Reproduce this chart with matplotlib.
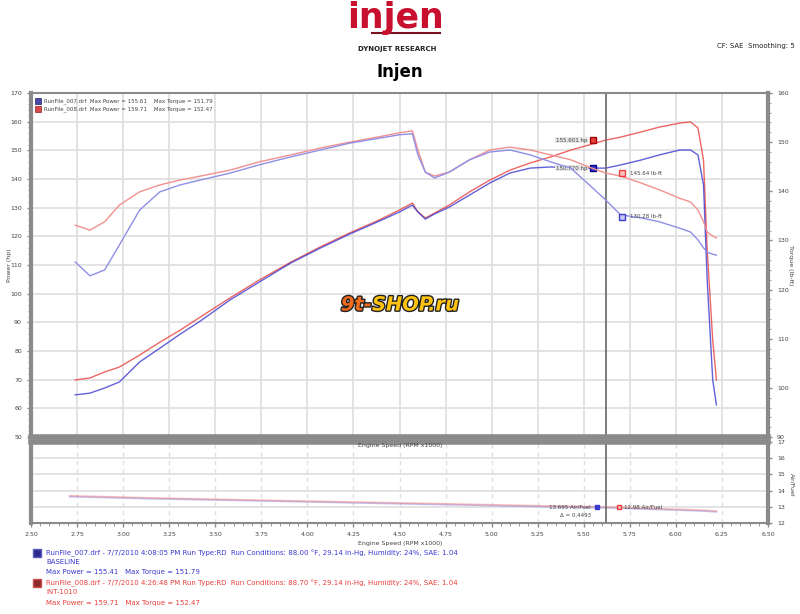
import matplotlib
matplotlib.use('Agg')
from matplotlib import pyplot as plt
from matplotlib.ticker import MultipleLocator, FormatStrFormatter
import matplotlib.patheffects as pe

# engine speed (RPM x1000)
rpm = [2.74, 2.82, 2.90, 2.98, 3.09, 3.20, 3.31, 3.42, 3.58, 3.74, 3.91, 4.07, 4.23,
       4.39, 4.50, 4.57, 4.60, 4.64, 4.69, 4.77, 4.88, 4.99, 5.10, 5.21, 5.32, 5.43,
       5.53, 5.62, 5.70, 5.81, 5.91, 6.02, 6.08, 6.12, 6.15, 6.17, 6.20, 6.22]

# power (hp)
power_red = [69.9, 70.6, 72.7, 74.4, 78.6, 83.1, 87.3, 91.9, 98.5, 104.8, 111.0, 116.3, 121.2,
             125.7, 129.2, 131.6, 128.5, 126.4, 128.1, 130.9, 135.5, 139.6, 143.1, 145.6, 147.7, 150.1,
             151.9, 153.6, 154.6, 156.4, 158.1, 159.5, 159.9, 157.8, 146.6, 115.2, 83.8, 69.9]
power_blue = [64.7, 65.3, 67.1, 69.2, 76.2, 81.0, 85.9, 90.5, 97.8, 104.1, 110.7, 115.9, 120.8,
              125.3, 128.5, 130.9, 128.5, 126.0, 127.8, 130.2, 134.4, 138.6, 142.1, 143.8, 144.2, 143.8,
              143.8, 143.8, 144.9, 146.6, 148.4, 150.1, 150.1, 148.4, 137.9, 104.8, 69.9, 61.2]

# torque (lb-ft)
torque_red = [133.1, 132.1, 133.8, 137.2, 139.9, 141.3, 142.3, 143.1, 144.3, 146.0, 147.4, 148.8, 150.0,
              151.1, 151.9, 152.3, 148.4, 143.9, 143.1, 143.9, 146.4, 148.4, 149.0, 148.4, 147.4, 146.4,
              144.9, 143.7, 143.1, 141.7, 140.3, 138.6, 137.8, 136.2, 133.8, 131.7, 130.9, 130.5]
torque_blue = [125.6, 122.8, 124.0, 129.1, 136.2, 139.9, 141.3, 142.3, 143.7, 145.4, 147.0, 148.4, 149.8,
               150.8, 151.5, 151.7, 147.4, 143.9, 142.7, 143.9, 146.4, 148.0, 148.4, 147.4, 146.0, 144.7,
               141.3, 138.2, 135.2, 134.6, 133.8, 132.5, 131.7, 130.1, 128.5, 127.6, 127.2, 127.0]

# air/fuel (lower panel)
afr_rpm = [2.71, 3.15, 3.69, 4.23, 4.77, 5.32, 5.62, 6.13, 6.22]
afr_blue = [13.63, 13.50, 13.38, 13.25, 13.13, 13.00, 12.94, 12.75, 12.69]
afr_red = [13.68, 13.55, 13.42, 13.30, 13.18, 13.05, 12.99, 12.80, 12.74]

cursor_rpm = 5.62

BLUE = '#3a3ad0'
RED = '#e8403c'
BLUE_L = '#8f8fe6'
RED_L = '#f19090'
GRID = '#e0e0e0'
SPINE = '#8a8a8a'
TXT = '#444444'

W, H = 800, 614
fig = plt.figure(figsize=(8, 6.14), dpi=100)


def fx(px):
    return px / W


def fy(py):
    return 1 - py / H


# ---- main panel
ax = fig.add_axes([fx(31), fy(437), fx(768) - fx(31), fy(93) - fy(437)])
ax.set_xlim(2.5, 6.5)
ax.set_ylim(50, 170)
ax.xaxis.set_major_locator(MultipleLocator(0.25))
ax.yaxis.set_major_locator(MultipleLocator(10))
ax.yaxis.set_minor_locator(MultipleLocator(2))
ax.grid(True, color=GRID, lw=1.3)
ax.set_axisbelow(True)
ax.tick_params(axis='x', labelbottom=False, length=0)
ax.tick_params(axis='y', labelsize=4.5, labelcolor=TXT, color=SPINE, length=3, width=1)
ax.tick_params(axis='y', which='minor', length=2, color=SPINE)
for s in ax.spines.values():
    s.set_color(SPINE)
    s.set_linewidth(1.5)
ax.spines['left'].set_linewidth(3)
ax.spines['bottom'].set_linewidth(4)

axt = ax.twinx()
axt.set_ylim(90, 160)
axt.yaxis.set_major_locator(MultipleLocator(10))
axt.yaxis.set_minor_locator(MultipleLocator(2))
axt.tick_params(axis='y', labelsize=4.5, labelcolor=TXT, color=SPINE, length=3, width=1)
axt.tick_params(axis='y', which='minor', length=2, color=SPINE)
axt.spines['right'].set_color(SPINE)
axt.spines['right'].set_linewidth(3)
for k in ['left', 'top', 'bottom']:
    axt.spines[k].set_visible(False)

axt.plot(rpm, torque_red, color=RED_L, lw=1.0)
axt.plot(rpm, torque_blue, color=BLUE_L, lw=1.0)
ax.plot(rpm, power_red, color=RED, lw=1.0, alpha=0.8)
ax.plot(rpm, power_blue, color=BLUE, lw=1.0, alpha=0.8)

ax.axvline(cursor_rpm, color='#666666', lw=1.2)

# cursor readouts
ax.plot(5.55, 153.6, 's', ms=4, color=RED, mec='#a00000')
ax.text(5.52, 153.6, '155.601 hp', fontsize=4, color=TXT, ha='right', va='center',
        bbox=dict(boxstyle='square,pad=0.15', fc='#e6e6e6', ec='none'))
ax.plot(5.55, 143.8, 's', ms=4, color=BLUE, mec='#000080')
ax.text(5.52, 143.8, '150.770 hp', fontsize=4, color=TXT, ha='right', va='center',
        bbox=dict(boxstyle='square,pad=0.15', fc='#e6e6e6', ec='none'))
axt.plot(5.71, 143.7, 's', ms=4, mfc='#f7c0c0', mec=RED)
axt.text(5.75, 143.7, '145.64 lb-ft', fontsize=4, color=TXT, ha='left', va='center')
axt.plot(5.71, 134.8, 's', ms=4, mfc='#c8c8f5', mec=BLUE)
axt.text(5.75, 134.8, '130.28 lb-ft', fontsize=4, color=TXT, ha='left', va='center')

# in-plot legend
fig.patches.append(plt.Rectangle((fx(35), fy(104)), 6 / W, 6 / H, transform=fig.transFigure,
                                 fc='#4848a8', ec='#222266', lw=0.5))
fig.patches.append(plt.Rectangle((fx(35), fy(112)), 6 / W, 6 / H, transform=fig.transFigure,
                                 fc='#d84848', ec='#882222', lw=0.5))
fig.text(fx(44), fy(101), 'RunFile_007.drf  Max Power = 155.61    Max Torque = 151.79',
         fontsize=4, color=TXT, va='center')
fig.text(fx(44), fy(109), 'RunFile_008.drf  Max Power = 159.71    Max Torque = 152.47',
         fontsize=4, color=TXT, va='center')

# ---- lower panel
ax2 = fig.add_axes([fx(31), fy(523), fx(768) - fx(31), fy(442) - fy(523)])
ax2.set_xlim(2.5, 6.5)
ax2.set_ylim(12, 17)
ax2.xaxis.set_major_locator(MultipleLocator(0.25))
ax2.xaxis.set_minor_locator(MultipleLocator(0.05))
ax2.xaxis.set_major_formatter(FormatStrFormatter('%.2f'))
ax2.yaxis.set_major_locator(MultipleLocator(1))
ax2.yaxis.tick_right()
ax2.grid(True, axis='y', color=GRID, lw=1.3)
ax2.grid(True, axis='x', color=GRID, lw=1.0, ls=(0, (3, 3)))
ax2.set_axisbelow(True)
ax2.tick_params(axis='x', labelsize=4.5, labelcolor=TXT, color=SPINE, length=3, width=1)
ax2.tick_params(axis='x', which='minor', length=2, color=SPINE)
ax2.tick_params(axis='y', labelsize=4.5, labelcolor=TXT, color=SPINE, length=3, width=1)
for s in ax2.spines.values():
    s.set_color(SPINE)
    s.set_linewidth(1.5)
ax2.spines['right'].set_linewidth(3)
ax2.spines['left'].set_linewidth(3)
ax2.spines['top'].set_linewidth(4)
ax2.spines['bottom'].set_linestyle((0, (2, 1)))

ax2.plot(afr_rpm, afr_blue, color=BLUE_L, lw=1.2, alpha=0.6)
ax2.plot(afr_rpm, afr_red, color=RED_L, lw=1.2, alpha=0.6)
ax2.axvline(cursor_rpm, color='#666666', lw=1.2)
ax2.plot(5.57, 12.97, 's', ms=3, color=BLUE)
ax2.text(5.54, 12.97, '13.695 Air/Fuel', fontsize=4, color=TXT, ha='right', va='center')
ax2.text(5.54, 12.45, 'Δ = 0.4493', fontsize=4, color=TXT, ha='right', va='center')
ax2.plot(5.69, 12.97, 's', ms=3, mfc='#f7c0c0', mec=RED)
ax2.text(5.72, 12.97, '12.98 Air/Fuel', fontsize=4, color=TXT, ha='left', va='center')

# axis titles
fig.text(fx(9), fy(265), 'Power (hp)', fontsize=4.5, color=TXT, rotation=90, ha='center', va='center')
fig.text(fx(791), fy(265), 'Torque (lb-ft)', fontsize=4.5, color=TXT, rotation=-90, ha='center', va='center')
fig.text(fx(792), fy(485), 'Air/Fuel', fontsize=4.5, color=TXT, rotation=-90, ha='center', va='center')
fig.text(fx(400), fy(446), 'Engine Speed (RPM x1000)', fontsize=4.5, color=TXT, ha='center', va='center')
fig.text(fx(400), fy(543), 'Engine Speed (RPM x1000)', fontsize=4.5, color=TXT, ha='center', va='center')

# header
fig.text(fx(396), fy(18), 'injen', fontsize=25, color='#c8102e', fontweight='bold',
         ha='center', va='center')
fig.lines.append(plt.Line2D([fx(372), fx(440)], [fy(33), fy(33)], transform=fig.transFigure,
                            color='#7a1020', lw=1.5))
fig.text(fx(397), fy(49), 'DYNOJET RESEARCH', fontsize=5, color='#222222', fontweight='bold',
         ha='center', va='center')
fig.text(fx(400), fy(72), 'Injen', fontsize=12, color='black', fontweight='bold',
         ha='center', va='center')
fig.text(fx(795), fy(46), 'CF: SAE  Smoothing: 5', fontsize=5, color='#222222', ha='right', va='center')

# watermark
fig.text(fx(372), fy(305), '9t-', fontsize=14, color='#f26a1b', fontweight='bold', style='italic',
         ha='right', va='center', path_effects=[pe.withStroke(linewidth=2, foreground='#222222')])
fig.text(fx(372), fy(305), 'SHOP.ru', fontsize=14, color='#ffc20e', fontweight='bold', style='italic',
         ha='left', va='center', path_effects=[pe.withStroke(linewidth=2, foreground='#222222')])

# bottom legend
fig.patches.append(plt.Rectangle((fx(33), fy(557)), 8 / W, 8 / H, transform=fig.transFigure,
                                 fc='#2a2a8a', ec='#5a5ac0', lw=1))
fig.text(fx(46), fy(553), 'RunFile_007.drf - 7/7/2010 4:08:05 PM Run Type:RD  Run Conditions: 88.00 °F, 29.14 in-Hg, '
         'Humidity: 24%, SAE: 1.04', fontsize=5, color=BLUE, va='center')
fig.text(fx(46), fy(562), 'BASELINE', fontsize=5, color=BLUE, va='center')
fig.text(fx(46), fy(572), 'Max Power = 155.41   Max Torque = 151.79', fontsize=5, color=BLUE, va='center')
fig.patches.append(plt.Rectangle((fx(33), fy(587)), 8 / W, 8 / H, transform=fig.transFigure,
                                 fc='#8a2a2a', ec='#d05050', lw=1))
fig.text(fx(46), fy(583), 'RunFile_008.drf - 7/7/2010 4:26:48 PM Run Type:RD  Run Conditions: 88.70 °F, 29.14 in-Hg, '
         'Humidity: 24%, SAE: 1.04', fontsize=5, color=RED, va='center')
fig.text(fx(46), fy(592), 'INT-1010', fontsize=5, color=RED, va='center')
fig.text(fx(46), fy(603), 'Max Power = 159.71   Max Torque = 152.47', fontsize=5, color=RED, va='center')

fig.savefig('out.png', dpi=100)
